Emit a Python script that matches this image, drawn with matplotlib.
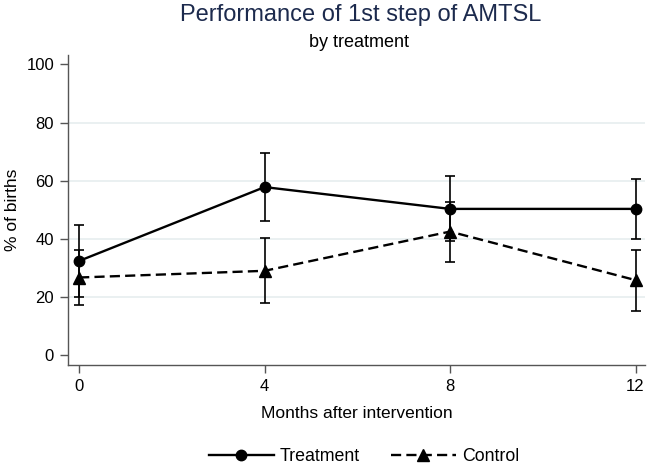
import matplotlib
matplotlib.use("Agg")
import matplotlib.pyplot as plt
from matplotlib.lines import Line2D

plt.rcParams['font.family'] = ['Liberation Sans', 'DejaVu Sans']

# Data
months = [0, 4, 8, 12]
treatment = [32.4, 57.8, 50.3, 50.3]
treatment_lo = [20.0, 46.0, 39.2, 40.0]
treatment_hi = [44.8, 69.5, 61.5, 60.7]
control = [26.7, 29.0, 42.5, 25.8]
control_lo = [17.2, 18.0, 32.2, 15.2]
control_hi = [36.2, 40.4, 52.6, 36.0]

fig = plt.figure(figsize=(6.5, 4.67), dpi=100)
ax = fig.add_axes([0.1046, 0.2184, 0.8874, 0.6636])

# light horizontal grid
for g in [20, 40, 60, 80]:
    ax.axhline(g, color='#e6eeef', lw=1.2, zorder=0)

def yerr(v, lo, hi):
    return [[a - b for a, b in zip(v, lo)], [c - a for a, c in zip(v, hi)]]

dash = (4.3, 2.2)
ax.errorbar(months, treatment, yerr=yerr(treatment, treatment_lo, treatment_hi),
            fmt='none', ecolor='black', elinewidth=1.2, capsize=3.5, capthick=1.2, zorder=2)
ax.errorbar(months, control, yerr=yerr(control, control_lo, control_hi),
            fmt='none', ecolor='black', elinewidth=1.2, capsize=3.5, capthick=1.2, zorder=2)
ax.plot(months, treatment, '-', color='black', lw=1.7, marker='o', ms=7.5, zorder=3)
ax.plot(months, control, '--', color='black', lw=1.7, marker='^', ms=8,
        dashes=dash, zorder=3)

ax.set_xlim(-0.24, 12.2)
ax.set_ylim(-3.4, 103.2)
ax.set_xticks(months)
ax.set_yticks([0, 20, 40, 60, 80, 100])
ax.tick_params(direction='out', length=6, width=1, color='#555555', labelsize=12, pad=4)
for s in ['top', 'right']:
    ax.spines[s].set_visible(False)
for s in ['left', 'bottom']:
    ax.spines[s].set_color('#555555')
    ax.spines[s].set_linewidth(1)

ax.set_ylabel('% of births', fontsize=12.5)
ax.yaxis.set_label_coords(-0.083, 0.5)
ax.set_xlabel('Months after intervention', fontsize=12.5, labelpad=9)

fig.text(0.555, 0.968, 'Performance of 1st step of AMTSL', ha='center', va='center',
         fontsize=17, color='#1c2a4d')
fig.text(0.553, 0.91, 'by treatment', ha='center', va='center', fontsize=13)

handles = [Line2D([], [], color='black', lw=1.7, marker='o', ms=7.5),
           Line2D([], [], color='black', lw=1.7, ls='--', dashes=dash, marker='^', ms=8)]
fig.legend(handles, ['Treatment', 'Control'], loc='center', bbox_to_anchor=(0.56, 0.022),
           ncol=2, frameon=False, fontsize=12.8, handlelength=3.65, columnspacing=1.75,
           handletextpad=0.35)

fig.savefig('out.png', dpi=100)
